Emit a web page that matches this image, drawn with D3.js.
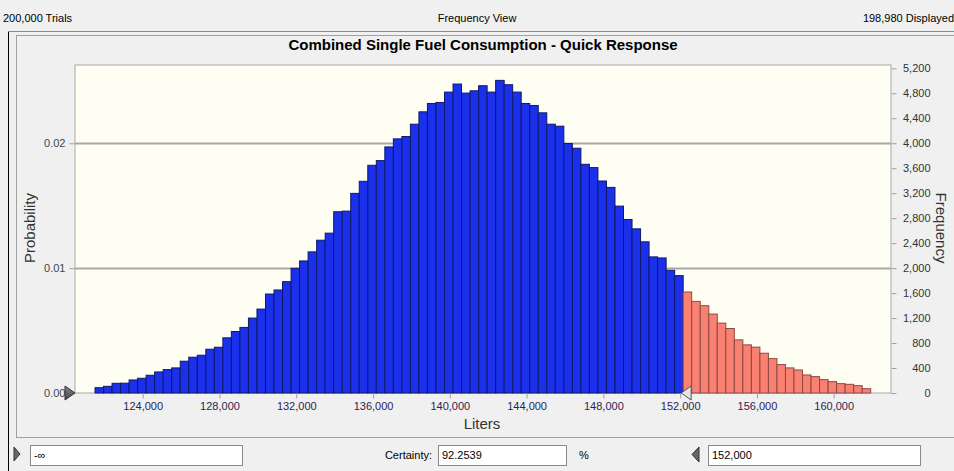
<!DOCTYPE html>
<html>
<head>
<meta charset="utf-8">
<script src="https://cdn.jsdelivr.net/npm/d3@7"></script>
<style>
  html, body { margin: 0; padding: 0; background: #f0f0f0; }
  svg { display: block; }
  text { font-family: "Liberation Sans", Arial, sans-serif; }
</style>
</head>
<body>
<svg id="chart" width="954" height="471"></svg>
<script>
// ---- data ----
const title = "Combined Single Fuel Consumption - Quick Response";
const trials = 200000;
const displayed = 198980;
const certainty = "92.2539";
const lowerBound = "-\u221e";
const upperBound = 152000;
const binStart = 121515;
const binWidth = 444.1;
const frequencies = [
  85, 107, 155, 157, 209, 236, 284, 337, 375, 402,
  509, 573, 605, 701, 733, 884, 985, 1050, 1200, 1344,
  1585, 1650, 1783, 1997, 2115, 2260, 2447, 2560, 2903, 2913,
  3197, 3390, 3647, 3722, 3941, 4070, 4107, 4305, 4503, 4637,
  4653, 4819, 4948, 4803, 4840, 4921, 4819, 5007, 4937, 4819,
  4637, 4605, 4487, 4305, 4273, 3995, 3920, 3663, 3610, 3395,
  3293, 2993, 2779, 2629, 2421, 2180, 2163, 1965, 1880,
  1617, 1467, 1398, 1264, 1119, 1033, 851, 771, 734, 637,
  551, 455, 402, 369, 289, 262, 214, 182, 150, 139,
  118, 69
];
const xDomain = [120473, 162985];
const freqMax = 5253;
const xTicks = [124000, 128000, 132000, 136000, 140000, 144000, 148000, 152000, 156000, 160000];
const freqTicks = [0, 400, 800, 1200, 1600, 2000, 2400, 2800, 3200, 3600, 4000, 4400, 4800, 5200];
const probTicks = [0, 0.01, 0.02];

// ---- layout ----
const plot = { left: 75, right: 891, top: 65, bottom: 393 };
const svg = d3.select("#chart");

const x = d3.scaleLinear().domain(xDomain).range([plot.left, plot.right]);
const yF = d3.scaleLinear().domain([0, freqMax]).range([plot.bottom, plot.top]);
const yP = d3.scaleLinear().domain([0, freqMax / trials]).range([plot.bottom, plot.top]);

// frames
svg.append("line").attr("x1", 8.5).attr("x2", 8.5).attr("y1", 31).attr("y2", 471).attr("stroke", "#000");
svg.append("line").attr("x1", 8).attr("x2", 954).attr("y1", 31.5).attr("y2", 31.5).attr("stroke", "#888");
svg.append("rect").attr("x", 16.5).attr("y", 35.5).attr("width", 950).attr("height", 402)
  .attr("fill", "none").attr("stroke", "#a0a0a0");

// header
svg.append("text").attr("x", 3).attr("y", 22).attr("font-size", 11).attr("fill", "#000")
  .text(d3.format(",")(trials) + " Trials");
svg.append("text").attr("x", 477).attr("y", 22).attr("font-size", 11).attr("text-anchor", "middle").attr("fill", "#000")
  .text("Frequency View");
svg.append("text").attr("x", 954).attr("y", 22).attr("font-size", 11).attr("text-anchor", "end").attr("fill", "#000")
  .text(d3.format(",")(displayed) + " Displayed");

// title
svg.append("text").attr("x", 483).attr("y", 50).attr("font-size", 15).attr("font-weight", "bold")
  .attr("text-anchor", "middle").attr("fill", "#000").text(title);

// plot background
svg.append("rect").attr("x", plot.left).attr("y", plot.top)
  .attr("width", plot.right - plot.left).attr("height", plot.bottom - plot.top)
  .attr("fill", "#fefef2").attr("stroke", "#a8a8a8");

// gridlines
svg.append("g").selectAll("line").data(probTicks.filter(d => d > 0)).join("line")
  .attr("x1", plot.left).attr("x2", plot.right)
  .attr("y1", d => Math.round(yP(d)) + 0.5).attr("y2", d => Math.round(yP(d)) + 0.5)
  .attr("stroke", "#a8a8a8").attr("stroke-width", 2);

// bars
const bars = frequencies.map((f, i) => ({ x0: binStart + i * binWidth, x1: binStart + (i + 1) * binWidth, f }));
svg.append("g").selectAll("rect").data(bars).join("rect")
  .attr("x", d => x(d.x0))
  .attr("y", d => yF(d.f))
  .attr("width", d => x(d.x1) - x(d.x0))
  .attr("height", d => yF(0) - yF(d.f))
  .attr("fill", d => d.x0 >= upperBound ? "#fa8072" : "#1b30ea")
  .attr("stroke", d => d.x0 >= upperBound ? "#8a4a44" : "#10186a")
  .attr("stroke-width", 1);

// left axis
const leftAxis = d3.axisLeft(yP).tickValues(probTicks).tickFormat(d3.format(".2f")).tickSize(5).tickPadding(4);
const gl = svg.append("g").attr("transform", `translate(${plot.left - 0.5},0)`).call(leftAxis);
gl.select(".domain").remove();
gl.selectAll("line").attr("stroke", "#a0a0a0");
gl.selectAll("text").attr("font-size", 11).attr("fill", "#444").attr("font-family", "Liberation Sans, Arial, sans-serif");

// right axis
const rightAxis = d3.axisRight(yF).tickValues(freqTicks).tickFormat(d3.format(",")).tickSize(5).tickPadding(0);
const gr = svg.append("g").attr("transform", `translate(${plot.right + 0.5},0)`).call(rightAxis);
gr.select(".domain").remove();
gr.selectAll("line").attr("stroke", "#a0a0a0");
gr.selectAll("text").attr("x", 39).attr("text-anchor", "end").attr("font-size", 11).attr("fill", "#333")
  .attr("font-family", "Liberation Sans, Arial, sans-serif");

// bottom axis
const bottomAxis = d3.axisBottom(x).tickValues(xTicks).tickFormat(d3.format(",")).tickSize(5).tickPadding(4);
const gb = svg.append("g").attr("transform", `translate(0,${plot.bottom + 0.5})`).call(bottomAxis);
gb.select(".domain").remove();
gb.selectAll("line").attr("stroke", "#a0a0a0");
gb.selectAll("text").attr("font-size", 11).attr("fill", "#2e2452").attr("font-family", "Liberation Sans, Arial, sans-serif");

// axis titles
svg.append("text").attr("x", 482).attr("y", 429).attr("text-anchor", "middle").attr("font-size", 15).attr("fill", "#333").text("Liters");
svg.append("text").attr("transform", "translate(35,228) rotate(-90)").attr("text-anchor", "middle")
  .attr("font-size", 15).attr("fill", "#333").text("Probability");
svg.append("text").attr("transform", "translate(936,228) rotate(90)").attr("text-anchor", "middle")
  .attr("font-size", 15).attr("fill", "#333").text("Frequency");

// grabbers on axis
const lg = svg.append("defs").append("linearGradient").attr("id", "gdark").attr("x1", 0).attr("x2", 0).attr("y1", 0).attr("y2", 1);
lg.append("stop").attr("offset", "0").attr("stop-color", "#888");
lg.append("stop").attr("offset", "1").attr("stop-color", "#444");
svg.append("path").attr("d", `M${plot.left - 10},${plot.bottom - 7} L${plot.left},${plot.bottom} L${plot.left - 10},${plot.bottom + 7} Z`)
  .attr("fill", "url(#gdark)").attr("stroke", "#333");
const ux = x(upperBound);
svg.append("path").attr("d", `M${ux + 1},${plot.bottom} L${ux + 11},${plot.bottom - 7} L${ux + 11},${plot.bottom + 7} Z`)
  .attr("fill", "#e4e4e4").attr("stroke", "#555");

// bottom controls
svg.append("path").attr("d", "M14,447 L20,454 L14,461 Z").attr("fill", "#666").attr("stroke", "#333");
svg.append("rect").attr("x", 30.5).attr("y", 445.5).attr("width", 212).attr("height", 20).attr("fill", "#fff").attr("stroke", "#8a8a8a");
svg.append("text").attr("x", 34).attr("y", 459).attr("font-size", 11).attr("fill", "#000").text(lowerBound);
svg.append("text").attr("x", 432).attr("y", 459).attr("font-size", 11).attr("text-anchor", "end").attr("fill", "#000").text("Certainty:");
svg.append("rect").attr("x", 438.5).attr("y", 445.5).attr("width", 128).attr("height", 20).attr("fill", "#fff").attr("stroke", "#8a8a8a");
svg.append("text").attr("x", 442).attr("y", 459).attr("font-size", 11).attr("fill", "#000").text(certainty);
svg.append("text").attr("x", 579).attr("y", 459).attr("font-size", 11).attr("fill", "#000").text("%");
svg.append("path").attr("d", "M699,447 L692,454.5 L699,462 Z").attr("fill", "#666").attr("stroke", "#333");
svg.append("rect").attr("x", 708.5).attr("y", 445.5).attr("width", 212).attr("height", 20).attr("fill", "#fff").attr("stroke", "#8a8a8a");
svg.append("text").attr("x", 712).attr("y", 459).attr("font-size", 11).attr("fill", "#000").text(d3.format(",")(upperBound));
</script>
</body>
</html>
